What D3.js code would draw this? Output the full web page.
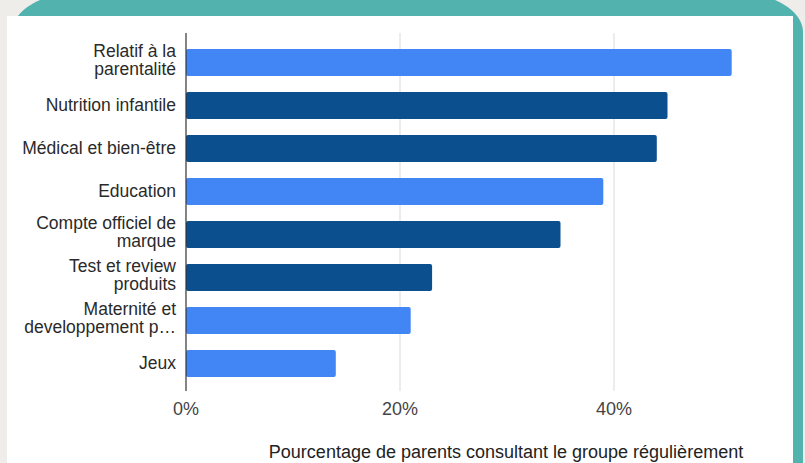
<!DOCTYPE html>
<html>
<head>
<meta charset="utf-8">
<script src="https://cdn.jsdelivr.net/npm/d3@7/dist/d3.min.js"></script>
<style>
  body { margin: 0; background: #efede9; }
  svg { display: block; font-family: "Liberation Sans", Arial, sans-serif; }
</style>
</head>
<body>
<div id="chart"></div>
<script>
var categories = [
  ["Relatif à la", "parentalité"],
  ["Nutrition infantile"],
  ["Médical et bien-être"],
  ["Education"],
  ["Compte officiel de", "marque"],
  ["Test et review", "produits"],
  ["Maternité et", "developpement p…"],
  ["Jeux"]
];
var values = [51, 45, 44, 39, 35, 23, 21, 14];
var shades = ["light", "dark", "dark", "light", "dark", "dark", "light", "light"];
var ticks = [0, 20, 40];
var axisTitle = "Pourcentage de parents consultant le groupe régulièrement";

var W = 805, H = 463;
var color = {light: "#4285f4", dark: "#0b4f8f"};

var svg = d3.select("#chart").append("svg")
    .attr("width", W)
    .attr("height", H);

// frame: teal rounded card behind a white panel
svg.append("rect")
    .attr("x", 12).attr("y", -8)
    .attr("width", 791).attr("height", 510)
    .attr("rx", 70).attr("ry", 40)
    .attr("fill", "#52b2ae");
svg.append("rect")
    .attr("x", 7).attr("y", 16)
    .attr("width", 786).attr("height", 460)
    .attr("fill", "#ffffff");

var x = d3.scaleLinear()
    .domain([0, 20])
    .range([186, 400]);

var y = d3.scaleBand()
    .domain(d3.range(values.length))
    .range([41, 385])
    .paddingInner(0.37)
    .paddingOuter(0.185);

// gridlines
svg.append("g").selectAll("line")
    .data(ticks.slice(1))
  .enter().append("line")
    .attr("x1", function(d) { return x(d); })
    .attr("x2", function(d) { return x(d); })
    .attr("y1", 33).attr("y2", 391)
    .attr("stroke", "#d9d9d9")
    .attr("stroke-width", 1);

svg.append("g").selectAll("rect")
    .data(values)
  .enter().append("rect")
    .attr("x", x(0))
    .attr("y", function(d, i) { return y(i); })
    .attr("width", function(d) { return x(d) - x(0); })
    .attr("height", y.bandwidth())
    .attr("rx", 2)
    .attr("fill", function(d, i) { return color[shades[i]]; });

// baseline
svg.append("line")
    .attr("x1", x(0)).attr("x2", x(0))
    .attr("y1", 33).attr("y2", 391)
    .attr("stroke", "#333")
    .attr("stroke-width", 1.2);

// x tick labels
svg.append("g").selectAll("text")
    .data(ticks)
  .enter().append("text")
    .attr("x", function(d) { return x(d); })
    .attr("y", 415)
    .attr("text-anchor", "middle")
    .attr("fill", "#444")
    .style("font-size", "18px")
    .text(function(d) { return d + "%"; });

// category labels
var lab = svg.append("g").selectAll("text")
    .data(categories)
  .enter().append("text")
    .attr("text-anchor", "end")
    .attr("fill", "#2a2a2a")
    .style("font-size", "17.5px")
    .attr("transform", function(d, i) {
      var cy = y(i) + y.bandwidth() / 2;
      return "translate(176," + (cy + 5 - (d.length - 1) * 10.5) + ")";
    });
lab.selectAll("tspan")
    .data(function(d) { return d; })
  .enter().append("tspan")
    .attr("x", 0)
    .attr("dy", function(d, i) { return i ? 17.5 : 0; })
    .text(function(d) { return d; });

svg.append("text")
    .attr("x", 506)
    .attr("y", 458)
    .attr("text-anchor", "middle")
    .attr("fill", "#222")
    .style("font-size", "18px")
    .text(axisTitle);
</script>
</body>
</html>
